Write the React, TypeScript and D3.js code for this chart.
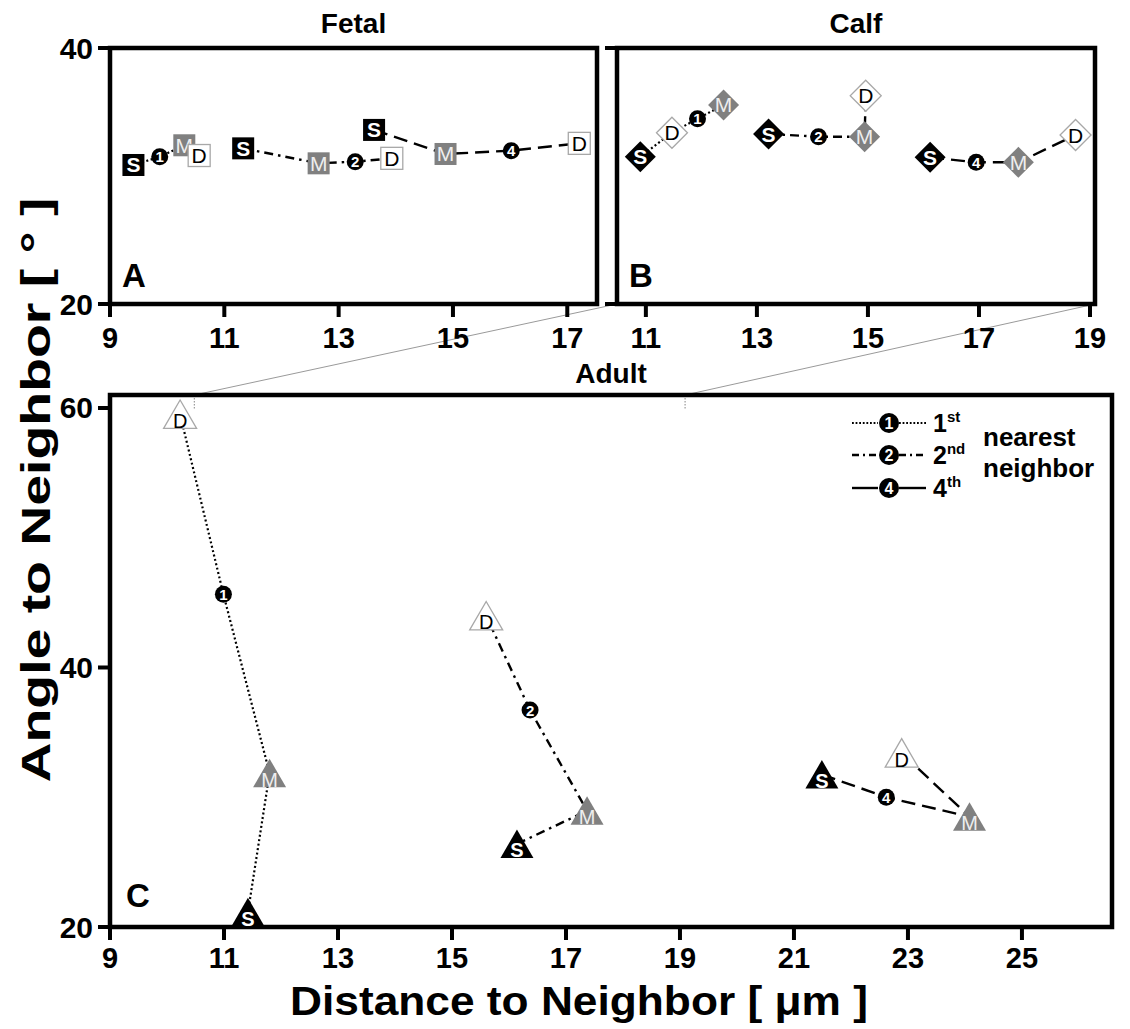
import React from 'react';
import * as d3 from 'd3';

type Pt = { k: string; x: number; y: number };

// ---- data ----
const fetal1st: Pt[] = [
  { k: 'S', x: 9.41, y: 30.86 }, { k: 'n', x: 9.87, y: 31.5 }, { k: 'M', x: 10.3, y: 32.4 }, { k: 'D', x: 10.56, y: 31.6 },
];
const fetal2nd: Pt[] = [
  { k: 'S', x: 11.33, y: 32.16 }, { k: 'M', x: 12.65, y: 30.99 }, { k: 'n', x: 13.29, y: 31.12 }, { k: 'D', x: 13.93, y: 31.38 },
];
const fetal4th: Pt[] = [
  { k: 'S', x: 13.62, y: 33.6 }, { k: 'M', x: 14.87, y: 31.72 }, { k: 'n', x: 16.02, y: 31.98 }, { k: 'D', x: 17.21, y: 32.55 },
];
const calf1st: Pt[] = [
  { k: 'S', x: 10.9, y: 31.5 }, { k: 'D', x: 11.47, y: 33.38 }, { k: 'n', x: 11.93, y: 34.48 }, { k: 'M', x: 12.4, y: 35.55 },
];
const calf2nd: Pt[] = [
  { k: 'S', x: 13.21, y: 33.28 }, { k: 'n', x: 14.11, y: 33.07 }, { k: 'M', x: 14.94, y: 33.07 }, { k: 'D', x: 14.96, y: 36.27 },
];
const calf4th: Pt[] = [
  { k: 'S', x: 16.12, y: 31.46 }, { k: 'n', x: 16.95, y: 31.07 }, { k: 'M', x: 17.71, y: 31.07 }, { k: 'D', x: 18.74, y: 33.2 },
];
const adult1st: Pt[] = [
  { k: 'S', x: 11.42, y: 21.13 }, { k: 'M', x: 11.8, y: 31.85 }, { k: 'n', x: 10.99, y: 45.64 }, { k: 'D', x: 10.23, y: 59.5 },
];
const adult2nd: Pt[] = [
  { k: 'S', x: 16.14, y: 26.4 }, { k: 'M', x: 17.37, y: 28.96 }, { k: 'n', x: 16.37, y: 36.72 }, { k: 'D', x: 15.6, y: 43.97 },
];
const adult4th: Pt[] = [
  { k: 'S', x: 21.49, y: 31.75 }, { k: 'n', x: 22.62, y: 30.0 }, { k: 'M', x: 24.08, y: 28.5 }, { k: 'D', x: 22.89, y: 33.4 },
];

const neighborNumbers = ['1', '2', '4'];
const neighborSuffixes = ['st', 'nd', 'th'];
const xTicksFetal = [9, 11, 13, 15, 17];
const xTicksCalf = [11, 13, 15, 17, 19];
const xTicksAdult = [9, 11, 13, 15, 17, 19, 21, 23, 25];
const yTicksTop = [20, 40];
const yTicksAdult = [20, 40, 60];
const xDomainFetal = [9, 17.52];
const xDomainCalf = [10.48, 19.09];
const xDomainAdult = [9, 26.58];
const yDomainTop = [20, 40];
const yDomainAdult = [20, 61];

// ---- styles ----
const FONT = 'Liberation Sans, Arial, Helvetica, sans-serif';
const dashes = [
  { dash: '2,2.5', w: 2.2 },
  { dash: '9,5,2.5,5', w: 2.4 },
  { dash: '14,7', w: 2.4 },
];

type Shape = 'square' | 'diamond' | 'triangle';

function Marker({ p, shape, num, sx, sy }: { p: Pt; shape: Shape; num: string; sx: any; sy: any }) {
  const cx = sx(p.x);
  const cy = sy(p.y);
  if (p.k === 'n') {
    return (
      <g>
        <circle cx={cx} cy={cy} r={8.5} fill="#000" />
        <text x={cx} y={cy + 5.5} textAnchor="middle" fontFamily={FONT} fontWeight="bold" fontSize={15} fill="#fff">{num}</text>
      </g>
    );
  }
  const fill = p.k === 'S' ? '#000' : p.k === 'M' ? '#808080' : '#fff';
  const stroke = p.k === 'D' ? '#a8a8a8' : 'none';
  const tFill = p.k === 'S' ? '#fff' : p.k === 'M' ? '#eeeeee' : '#000';
  const tWeight = p.k === 'S' ? 'bold' : 'normal';
  let body: any;
  let ty = cy + 7.5;
  let fs = 21;
  if (shape === 'square') {
    body = <rect x={cx - 11} y={cy - 11} width={22} height={22} fill={fill} stroke={stroke} strokeWidth={1.3} />;
  } else if (shape === 'diamond') {
    const h = 15.5;
    body = <polygon points={`${cx},${cy - h} ${cx + h},${cy} ${cx},${cy + h} ${cx - h},${cy}`} fill={fill} stroke={stroke} strokeWidth={1.3} />;
  } else {
    body = <polygon points={`${cx},${cy - 14.5} ${cx + 16.5},${cy + 14} ${cx - 16.5},${cy + 14}`} fill={fill} stroke={stroke} strokeWidth={1.3} />;
    ty = cy + 13.5;
    fs = 20;
  }
  return (
    <g>
      {body}
      <text x={cx} y={ty} textAnchor="middle" fontFamily={FONT} fontWeight={tWeight} fontSize={fs} fill={tFill}>{p.k}</text>
    </g>
  );
}

function Series({ pts, idx, shape, sx, sy }: { pts: Pt[]; idx: number; shape: Shape; sx: any; sy: any }) {
  const line = d3.line<Pt>().x((d) => sx(d.x)).y((d) => sy(d.y));
  return (
    <g>
      <path d={line(pts) || ''} fill="none" stroke="#000" strokeWidth={dashes[idx].w} strokeDasharray={dashes[idx].dash} />
      {pts.map((p, i) => (
        <Marker key={i} p={p} shape={shape} num={neighborNumbers[idx]} sx={sx} sy={sy} />
      ))}
    </g>
  );
}

function Frame({ sx, sy }: { sx: any; sy: any }) {
  const [x0, x1] = sx.range();
  const [y0, y1] = sy.range();
  return <rect x={x0} y={y1} width={x1 - x0} height={y0 - y1} fill="none" stroke="#000" strokeWidth={4.5} />;
}

function XAxis({ sx, y, ticks, labelY }: { sx: any; y: number; ticks: number[]; labelY: number }) {
  return (
    <g>
      {ticks.map((t) => (
        <g key={t}>
          <line x1={sx(t)} x2={sx(t)} y1={y} y2={y + 13} stroke="#000" strokeWidth={4} />
          <text x={sx(t)} y={labelY} textAnchor="middle" fontFamily={FONT} fontWeight="bold" fontSize={29} fill="#000">{t}</text>
        </g>
      ))}
    </g>
  );
}

function YAxis({ sy, x, ticks, labels }: { sy: any; x: number; ticks: number[]; labels: boolean }) {
  return (
    <g>
      {ticks.map((t) => (
        <g key={t}>
          <line x1={x - 12} x2={x} y1={sy(t)} y2={sy(t)} stroke="#000" strokeWidth={4} />
          {labels && (
            <text x={x - 17} y={sy(t) + 10.5} textAnchor="end" fontFamily={FONT} fontWeight="bold" fontSize={30} fill="#000">{t}</text>
          )}
        </g>
      ))}
    </g>
  );
}

export default function App() {
  const xA = d3.scaleLinear().domain(xDomainFetal).range([110, 597]);
  const xB = d3.scaleLinear().domain(xDomainCalf).range([617, 1095]);
  const yT = d3.scaleLinear().domain(yDomainTop).range([304, 48]);
  const xC = d3.scaleLinear().domain(xDomainAdult).range([110, 1112]);
  const yC = d3.scaleLinear().domain(yDomainAdult).range([927, 395]);

  const topC = yC.range()[1];
  const legendRows = [423, 455, 488];

  return (
    <svg width={1130} height={1029} style={{ position: 'absolute', left: 0, top: 0, background: '#fff' }}>
      <rect x={0} y={0} width={1130} height={1029} fill="#fff" />
      {/* zoom connector lines */}
      <line x1={xB.range()[0]} y1={yT.range()[0]} x2={xC(xDomainCalf[0])} y2={topC} stroke="#9a9a9a" strokeWidth={1} />
      <line x1={xB.range()[1]} y1={yT.range()[0]} x2={xC(xDomainCalf[1])} y2={topC} stroke="#9a9a9a" strokeWidth={1} />
      <line x1={xC(xDomainCalf[0])} y1={topC} x2={xC(xDomainCalf[0])} y2={topC + 14} stroke="#9a9a9a" strokeWidth={1.2} strokeDasharray="1.5,1.5" />
      <line x1={xC(xDomainCalf[1])} y1={topC} x2={xC(xDomainCalf[1])} y2={topC + 14} stroke="#9a9a9a" strokeWidth={1.2} strokeDasharray="1.5,1.5" />

      {/* titles */}
      <text x={(xA.range()[0] + xA.range()[1]) / 2} y={33} textAnchor="middle" fontFamily={FONT} fontWeight="bold" fontSize={28}>Fetal</text>
      <text x={(xB.range()[0] + xB.range()[1]) / 2} y={33} textAnchor="middle" fontFamily={FONT} fontWeight="bold" fontSize={28}>Calf</text>
      <text x={(xC.range()[0] + xC.range()[1]) / 2} y={383} textAnchor="middle" fontFamily={FONT} fontWeight="bold" fontSize={28}>Adult</text>

      {/* frames & axes */}
      <Frame sx={xA} sy={yT} />
      <Frame sx={xB} sy={yT} />
      <Frame sx={xC} sy={yC} />
      <XAxis sx={xA} y={304} ticks={xTicksFetal} labelY={348} />
      <XAxis sx={xB} y={304} ticks={xTicksCalf} labelY={348} />
      <XAxis sx={xC} y={927} ticks={xTicksAdult} labelY={968} />
      <YAxis sy={yT} x={110} ticks={yTicksTop} labels={true} />
      <YAxis sy={yT} x={617} ticks={yTicksTop} labels={false} />
      <YAxis sy={yC} x={110} ticks={yTicksAdult} labels={true} />

      {/* panel letters */}
      <text x={122} y={287} fontFamily={FONT} fontWeight="bold" fontSize={33}>A</text>
      <text x={629} y={287} fontFamily={FONT} fontWeight="bold" fontSize={33}>B</text>
      <text x={126} y={907} fontFamily={FONT} fontWeight="bold" fontSize={33}>C</text>

      {/* series */}
      <Series pts={fetal1st} idx={0} shape="square" sx={xA} sy={yT} />
      <Series pts={fetal2nd} idx={1} shape="square" sx={xA} sy={yT} />
      <Series pts={fetal4th} idx={2} shape="square" sx={xA} sy={yT} />
      <Series pts={calf1st} idx={0} shape="diamond" sx={xB} sy={yT} />
      <Series pts={calf2nd} idx={1} shape="diamond" sx={xB} sy={yT} />
      <Series pts={calf4th} idx={2} shape="diamond" sx={xB} sy={yT} />
      <Series pts={adult1st} idx={0} shape="triangle" sx={xC} sy={yC} />
      <Series pts={adult2nd} idx={1} shape="triangle" sx={xC} sy={yC} />
      <Series pts={adult4th} idx={2} shape="triangle" sx={xC} sy={yC} />

      {/* legend */}
      {legendRows.map((ly, i) => (
        <g key={i}>
          <line x1={852} x2={878} y1={ly} y2={ly} stroke="#000" strokeWidth={i === 0 ? 1.8 : 2.4} strokeDasharray={i === 0 ? '1.8,1.8' : i === 1 ? '7,4,2,4' : undefined} />
          <line x1={899} x2={926} y1={ly} y2={ly} stroke="#000" strokeWidth={i === 0 ? 1.8 : 2.4} strokeDasharray={i === 0 ? '1.8,1.8' : i === 1 ? '7,4,2,4' : undefined} />
          <circle cx={889} cy={ly} r={10} fill="#000" />
          <text x={889} y={ly + 6} textAnchor="middle" fontFamily={FONT} fontWeight="bold" fontSize={16} fill="#fff">{neighborNumbers[i]}</text>
          <text x={933} y={ly + 9} fontFamily={FONT} fontWeight="bold" fontSize={25}>
            {neighborNumbers[i]}
            <tspan fontSize={15} dy={-10}>{neighborSuffixes[i]}</tspan>
          </text>
        </g>
      ))}
      <text x={983} y={446} fontFamily={FONT} fontWeight="bold" fontSize={26}>nearest</text>
      <text x={983} y={477} fontFamily={FONT} fontWeight="bold" fontSize={26}>neighbor</text>

      {/* axis titles */}
      <text x={579} y={1015} textAnchor="middle" fontFamily={FONT} fontWeight="bold" fontSize={41} textLength={578} lengthAdjust="spacingAndGlyphs">Distance to Neighbor [ μm ]</text>
      <text transform="translate(50,490) rotate(-90)" textAnchor="middle" fontFamily={FONT} fontWeight="bold" fontSize={40} textLength={585} lengthAdjust="spacingAndGlyphs">Angle to Neighbor [ ° ]</text>
    </svg>
  );
}
